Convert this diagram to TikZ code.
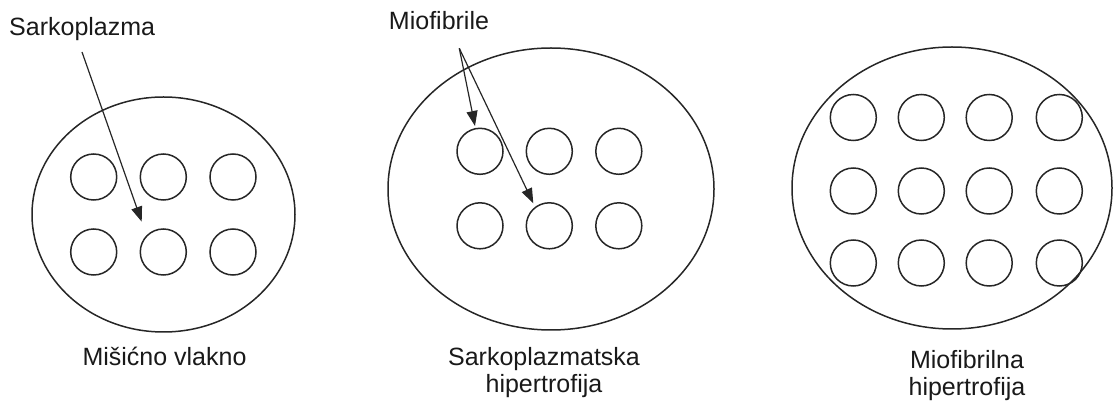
\documentclass[tikz,border=0pt]{standalone}
\usepackage{fontspec}
\setmainfont{Liberation Sans}
\usetikzlibrary{shapes.geometric,arrows.meta}
\tikzset{
  fiber/.style={draw=black!85, line width=1.5pt, ellipse, inner sep=0pt},
  fibril/.style={draw=black!85, line width=1.5pt, circle, inner sep=0pt, minimum size=46pt},
  lbl/.style={inner sep=0pt, font=\fontsize{25}{27}\selectfont, text=black!90, align=center},
  pointer/.style={draw=black!85, line width=1.2pt, -{Triangle[length=15pt,width=11pt]}}
}
\begin{document}
\begin{tikzpicture}[x=1pt,y=-1pt]
\useasboundingbox (0,0) rectangle (1114,403);
% ---------- left: muscle fibre ----------
\node[fiber, minimum width=263pt, minimum height=235pt] (f1) at (163.5,214.5) {};
\foreach \c/\x in {1/93.7,2/163.3,3/233}{
  \node[fibril] (a1\c) at (\x,177) {};
  \node[fibril] (a2\c) at (\x,252) {};
}
\node[lbl, anchor=base west] (sark) at (9,36) {Sarkoplazma};
\coordinate (sarkS) at (82,52);
\coordinate (sarkE) at (141.7,221.7);
\draw[pointer] (sarkS) -- (sarkE);
\node[lbl, anchor=base] (t1) at (164.5,365) {Mišićno vlakno};
% ---------- middle: sarcoplasmic hypertrophy ----------
\node[fiber, minimum width=326pt, minimum height=282pt] (f2) at (551,189) {};
\foreach \c/\x in {1/480,2/549.3,3/618.8}{
  \node[fibril] (b1\c) at (\x,151.3) {};
  \node[fibril] (b2\c) at (\x,225.8) {};
}
\node[lbl, anchor=base] (mio) at (439,30) {Miofibrile};
\coordinate (mioS) at (459.3,48.3);
\coordinate (mioE1) at (475,126);
\coordinate (mioE2) at (533.3,203.3);
\draw[pointer] (mioS) -- (mioE1);
\draw[pointer] (mioS) -- (mioE2);
\node[lbl, anchor=north] (t2) at (544,347) {Sarkoplazmatska\\hipertrofija};
% ---------- right: myofibrillar hypertrophy ----------
\node[fiber, minimum width=320pt, minimum height=282pt] (f3) at (952,188) {};
\foreach \c/\x in {1/853.3,2/921.3,3/989.2,4/1059.3}{
  \node[fibril] (c1\c) at (\x,117.5) {};
  \node[fibril] (c2\c) at (\x,191) {};
  \node[fibril] (c3\c) at (\x,263) {};
}
\node[lbl, anchor=north] (t3) at (967,350) {Miofibrilna\\hipertrofija};
\end{tikzpicture}
\end{document}
